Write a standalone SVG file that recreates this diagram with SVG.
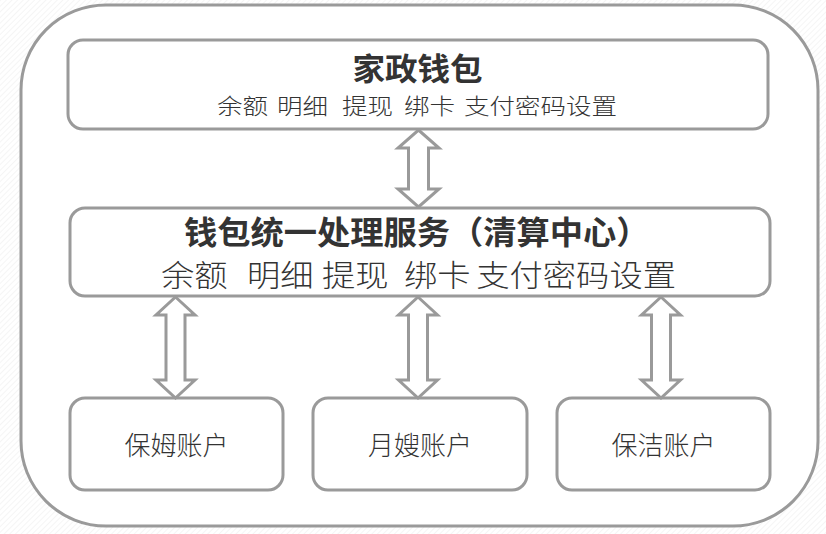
<svg xmlns="http://www.w3.org/2000/svg" width="826" height="534" viewBox="0 0 826 534">
<defs>
<pattern id="hatch" width="4" height="4" patternUnits="userSpaceOnUse" patternTransform="rotate(45)">
<line x1="0" y1="0" x2="0" y2="4" stroke="#efefef" stroke-width="1.2"/>
</pattern>
<style>
.box{fill:#fff;stroke:#9a9a9a;stroke-width:3}
.arr{fill:#fff;stroke:#9a9a9a;stroke-width:3;stroke-linejoin:miter}
.t{font-family:"Noto Sans CJK SC","Noto Sans",sans-serif;fill:#333}
.title{font-weight:700;fill:#333}
.sub{font-weight:300;fill:#333}
.acc{font-size:26px;font-weight:300;fill:#333;text-anchor:middle}
</style>
</defs>
<rect width="826" height="534" fill="#fff"/>
<rect width="826" height="534" fill="url(#hatch)"/>
<rect id="outer" x="21" y="5" width="797" height="521" rx="85" ry="85" class="box"/>

<g id="wallet">
<rect x="68" y="40" width="700" height="89" rx="15" class="box"/>
<text class="t title" font-size="31" text-anchor="middle" transform="translate(417.5,80) scale(1.05,1)">家政钱包</text>
<text class="t sub" font-size="22" transform="translate(217,114) scale(1.16,1)"><tspan x="0">余额</tspan><tspan x="51.7">明细</tspan><tspan x="107.8">提现</tspan><tspan x="161.2">绑卡</tspan><tspan x="213">支付密码设置</tspan></text>
</g>

<g id="service">
<rect x="70" y="208" width="700" height="88" rx="15" class="box"/>
<text class="t title" font-size="32" transform="translate(184,244) scale(1.04,1)">钱包统一处理服务（清算中心）</text>
<text class="t sub" font-size="30" transform="translate(161,286) scale(1.11,1)"><tspan x="0">余额</tspan><tspan x="77.5">明细</tspan><tspan x="145">提现</tspan><tspan x="219">绑卡</tspan><tspan x="284">支付密码设置</tspan></text>
</g>

<g id="nanny">
<rect x="70" y="398" width="213" height="92" rx="15" class="box"/>
<text class="t acc" x="176.5" y="455">保姆账户</text>
</g>
<g id="maternity">
<rect x="313" y="398" width="214" height="92" rx="15" class="box"/>
<text class="t acc" x="420" y="455">月嫂账户</text>
</g>
<g id="cleaner">
<rect x="557" y="398" width="213" height="92" rx="15" class="box"/>
<text class="t acc" x="663.5" y="455">保洁账户</text>
</g>

<g id="connectors">
<polygon class="arr" points="418.5,130 439,148 428.5,148 428.5,189 439,189 418.5,207 398,189 408.5,189 408.5,148 398,148"/>
<polygon class="arr" points="175.5,297 195,315 185,315 185,380 195,380 175.5,398 156,380 166,380 166,315 156,315"/>
<polygon class="arr" points="418,297 437.5,315 427.5,315 427.5,380 437.5,380 418,398 398.5,380 408.5,380 408.5,315 398.5,315"/>
<polygon class="arr" points="661,297 680.5,315 670.5,315 670.5,380 680.5,380 661,398 641.5,380 651.5,380 651.5,315 641.5,315"/>
</g>
</svg>
